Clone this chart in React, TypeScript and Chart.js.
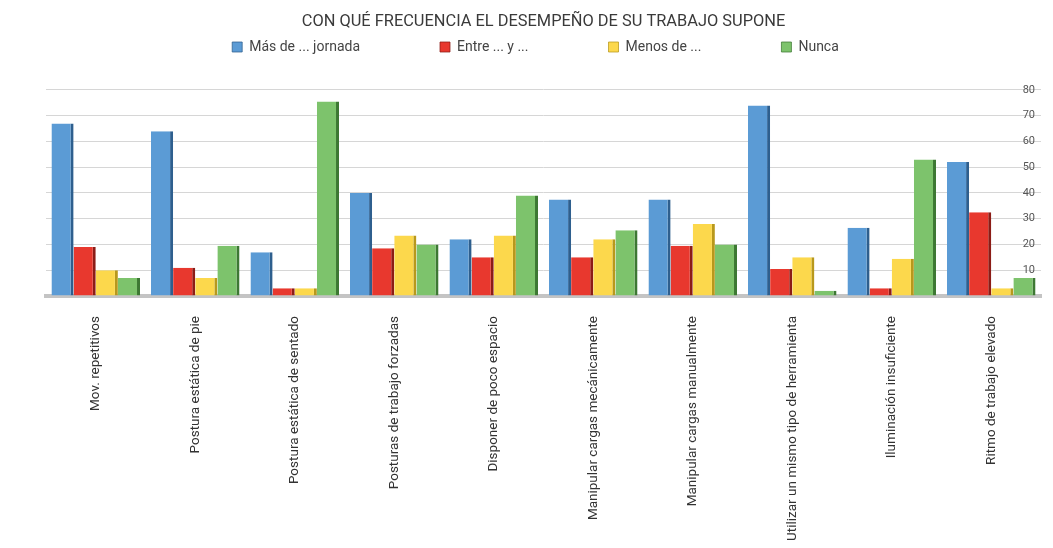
import React, { useEffect, useRef } from "react";
import { Chart, registerables } from "chart.js";

Chart.register(...registerables);

const titleText = "CON QUÉ FRECUENCIA EL DESEMPEÑO DE SU TRABAJO SUPONE";
const categories = [
  "Mov. repetitivos",
  "Postura estática de pie",
  "Postura estática de sentado",
  "Posturas de trabajo forzadas",
  "Disponer de poco espacio",
  "Manipular cargas mecánicamente",
  "Manipular cargas manualmente",
  "Utilizar un mismo tipo de herramienta",
  "Iluminación insuficiente",
  "Ritmo de trabajo elevado",
];
const seriesNames = ["Más de ... jornada", "Entre ... y ...", "Menos de ...", "Nunca"];
const masDe = [67, 64, 17, 40, 22, 37.5, 37.5, 74, 26.5, 52];
const entre = [19, 11, 3, 18.5, 15, 15, 19.5, 10.5, 3, 32.5];
const menosDe = [10, 7, 3, 23.5, 23.5, 22, 28, 15, 14.5, 3];
const nunca = [7, 19.5, 75.5, 20, 39, 25.5, 20, 2, 53, 7];
const yTicks = [0, 10, 20, 30, 40, 50, 60, 70, 80];

const fills = ["#5b9bd5", "#e8382e", "#fcd84c", "#7dc36c"];
const sides = ["#2e5f8e", "#8c1c16", "#b8981c", "#3d7833"];

const LEGEND_PAD = 80;

const shiftPlugin = {
  id: "shiftHeader",
  afterLayout(chart: any) {
    const l = chart.legend;
    if (l) {
      l.right = l.right - 16;
      l.top = 47 - LEGEND_PAD - 7;
    }
  },
};

export default function App() {
  const ref = useRef<HTMLCanvasElement | null>(null);
  useEffect(() => {
    if (!ref.current) return;
    const values = [masDe, entre, menosDe, nunca];
    const chart = new Chart(ref.current, {
      type: "bar",
      data: {
        labels: categories,
        datasets: values.map((v, i) => ({
          label: seriesNames[i],
          data: v,
          backgroundColor: fills[i],
          borderColor: sides[i],
          borderWidth: { top: 0, right: 3, bottom: 0, left: 0 },
          borderSkipped: false,
          categoryPercentage: 0.89,
          barPercentage: 1.0,
        })),
      },
      options: {
        responsive: false,
        animation: false,
        layout: { padding: { left: 46, right: 12, top: 0, bottom: 0 } },
        plugins: {
          title: {
            display: true,
            text: titleText,
            color: "#3a3a3a",
            font: { family: "Roboto", size: 16.4, weight: "normal" },
            padding: { top: 12, bottom: 2 },
          },
          legend: {
            display: true,
            maxHeight: 56.3,
            labels: {
              color: "#444",
              font: { family: "Roboto", size: 14 },
              boxWidth: 10,
              boxHeight: 10,
              padding: LEGEND_PAD,
            },
          },
          tooltip: { enabled: false },
        },
        scales: {
          x: {
            position: "bottom",
            grid: { display: false, drawTicks: false },
            border: { display: true, color: "#c4c4c4", width: 4 },
            ticks: {
              color: "#333",
              font: { family: "Roboto", size: 13.5 },
              maxRotation: 90,
              minRotation: 90,
              padding: 20,
              autoSkip: false,
            },
            afterFit: (s: any) => {
              s.height = 252;
            },
          },
          y: {
            position: "right",
            min: 0,
            max: 80,
            afterBuildTicks: (s: any) => {
              s.ticks = yTicks.map((v) => ({ value: v }));
            },
            grid: { color: "#d6d6d6", lineWidth: 1, drawTicks: false },
            border: { display: false },
            ticks: {
              mirror: true,
              padding: -6,
              color: "#555",
              font: { family: "Roboto", size: 11 },
              callback: (v: any) => (v === 0 ? "" : String(v)),
            },
            afterFit: (s: any) => {
              s.width = 0;
            },
          },
        },
      },
      plugins: [shiftPlugin],
    });
    return () => chart.destroy();
  }, []);
  return (
    <div style={{ position: "fixed", left: 0, top: 0, width: 1053, height: 548, background: "#fff" }}>
      <canvas ref={ref} width={1053} height={548} />
    </div>
  );
}
